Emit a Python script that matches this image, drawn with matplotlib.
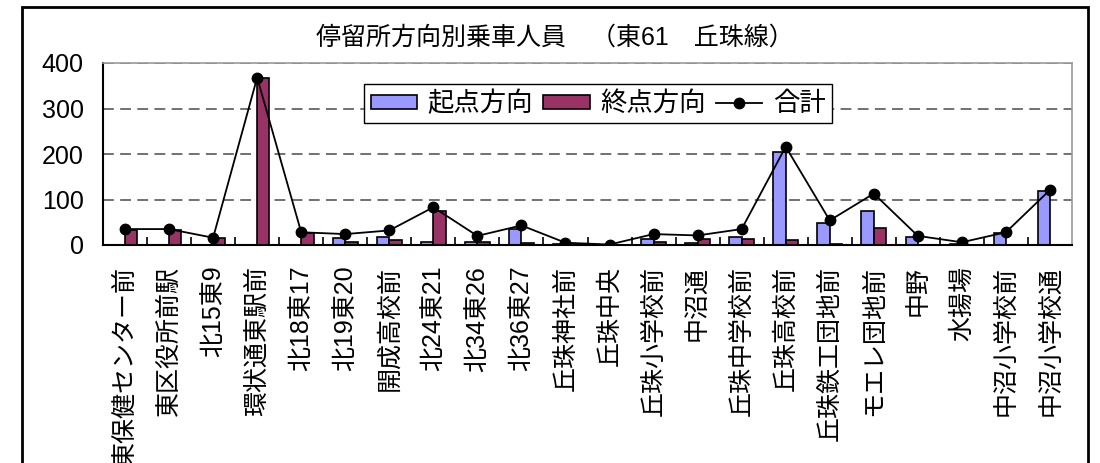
import numpy as np
import matplotlib
matplotlib.use("Agg")
import matplotlib.pyplot as plt
from matplotlib.patches import Rectangle

plt.rcParams['font.family'] = ['Liberation Sans', 'Noto Sans CJK JP']

# Stops along route 東61 (丘珠線)
stops = [
    "東保健センター前", "東区役所前駅", "北15東9", "環状通東駅前", "北18東17",
    "北19東20", "開成高校前", "北24東21", "北34東26", "北36東27",
    "丘珠神社前", "丘珠中央", "丘珠小学校前", "中沼通", "丘珠中学校前",
    "丘珠高校前", "丘珠鉄工団地前", "モエレ団地前", "中野", "水揚場",
    "中沼小学校前", "中沼小学校通",
]
# Boardings toward the origin terminal
to_origin = [0, 0, 0, 0, 0, 15, 18, 7, 7, 36, 3, 0, 13, 4, 18, 205, 48, 74, 18, 3, 26, 118]
# Boardings toward the destination terminal
to_terminal = [33, 33, 15, 366, 26, 7, 11, 74, 7, 4, 2, 0, 7, 13, 13, 11, 2, 37, 0, 0, 0, 0]
# Total boardings per stop
total = [35, 35, 16, 368, 28, 24, 32, 83, 20, 43, 5, 1, 24, 21, 35, 216, 54, 113, 20, 6, 28, 121]

y_ticks = [0, 100, 200, 300, 400]
title = "停留所方向別乗車人員　（東61　丘珠線）"
legend_labels = ["起点方向", "終点方向", "合計"]

W, H = 1100, 463
fig = plt.figure(figsize=(W / 100, H / 100), dpi=100)
ax = fig.add_axes([103 / W, 1 - 245 / H, (1072 - 103) / W, (245 - 63) / H])

x = np.arange(len(stops))
bw = 0.28
b1 = ax.bar(x - bw / 2, to_origin, width=bw, color="#9999FF", edgecolor="black",
            linewidth=1.2, label=legend_labels[0], zorder=2)
b2 = ax.bar(x + bw / 2, to_terminal, width=bw, color="#993366", edgecolor="black",
            linewidth=1.2, label=legend_labels[1], zorder=2)
ln, = ax.plot(x, total, color="black", linewidth=1.3, marker="o", markersize=7.5,
              label=legend_labels[2], zorder=3)

ax.set_xlim(-0.5, len(stops) - 0.5)
ax.set_ylim(0, 400)
ax.set_yticks(y_ticks)
ax.tick_params(axis="y", length=0, pad=14, labelsize=18)
ax.set_xticks(x, stops, rotation=90)
ax.tick_params(axis="x", which="major", length=0, pad=15, labelsize=18)
ax.set_xticks(np.arange(0.5, len(stops) - 0.5, 1), minor=True)
ax.tick_params(axis="x", which="minor", direction="in", length=6, width=1.2,
               color="black")

ax.set_axisbelow(True)
ax.yaxis.grid(True, color="#666666", linestyle=(0, (6, 3.5)), linewidth=1.3)
ax.xaxis.grid(False)

for side in ("left", "bottom"):
    ax.spines[side].set_color("black")
    ax.spines[side].set_linewidth(1.5)
for side in ("top", "right"):
    ax.spines[side].set_color("#999999")
    ax.spines[side].set_linewidth(1.2)

leg = fig.legend([b1, b2, ln], legend_labels, loc="upper left",
                 bbox_to_anchor=(364 / W, 1 - 84 / H),
                 bbox_transform=fig.transFigure, ncol=3, frameon=True,
                 fancybox=False, shadow=False, fontsize=19, borderaxespad=0,
                 handlelength=1.75, handleheight=0.45, handletextpad=0.4,
                 columnspacing=0.4, borderpad=0.25)
leg.get_frame().set_edgecolor("black")
leg.get_frame().set_linewidth(1.0)
leg.get_frame().set_alpha(1)

fig.text(555 / W, 1 - 38 / H, title, ha="center", va="center", fontsize=18)

# Outer chart frame (its lower edge runs below the canvas)
frame = Rectangle((22 / W, -0.1), (1088 - 22) / W, 1 - 7 / H + 0.1,
                  transform=fig.transFigure, fill=False, edgecolor="black",
                  linewidth=2, clip_on=False)
fig.add_artist(frame)

fig.savefig("out.png", dpi=100)
